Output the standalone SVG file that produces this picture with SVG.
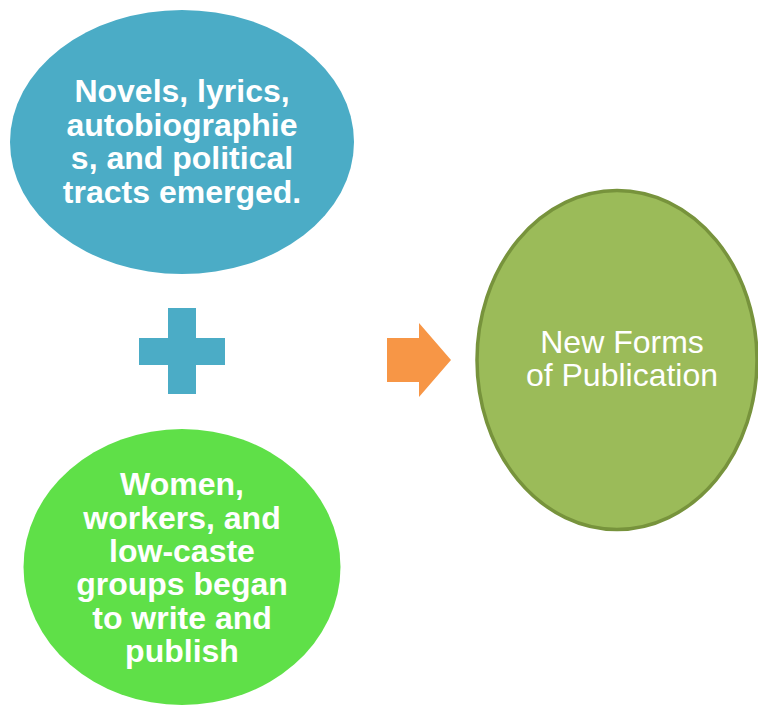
<svg xmlns="http://www.w3.org/2000/svg" width="758" height="707" viewBox="0 0 758 707">
<style>
.b{font-family:"Liberation Sans",Arial,sans-serif;font-weight:bold;font-size:32px;fill:#fff;text-anchor:middle}
.r{font-family:"Liberation Sans",Arial,sans-serif;font-size:32px;fill:#fff;text-anchor:middle}
</style>
<rect width="758" height="707" fill="#fff"/>
<g id="top-node">
<ellipse cx="182" cy="142" rx="172" ry="132" fill="#4BACC6"/>
<text class="b"><tspan x="182" y="102">Novels, lyrics,</tspan><tspan x="182" y="135.5">autobiographie</tspan><tspan x="182" y="169">s, and political</tspan><tspan x="182" y="202.5">tracts emerged.</tspan></text>
</g>
<g id="bottom-node">
<ellipse cx="182" cy="567" rx="158.5" ry="138" fill="#5FE048"/>
<text class="b"><tspan x="182" y="495">Women,</tspan><tspan x="182" y="528.5">workers, and</tspan><tspan x="182" y="562">low-caste</tspan><tspan x="182" y="595">groups began</tspan><tspan x="182" y="628.5">to write and</tspan><tspan x="182" y="661.5">publish</tspan></text>
</g>
<g id="result-node">
<ellipse cx="617" cy="360" rx="140" ry="169.5" fill="#9BBB59" stroke="#77933C" stroke-width="3.5"/>
<text class="r"><tspan x="622" y="353">New Forms</tspan><tspan x="622" y="386">of Publication</tspan></text>
</g>
<g id="connectors">
<path d="M168 308H196V338H225V365H196V394H168V365H139V338H168Z" fill="#4BACC6"/>
<path d="M387 338H419V323L451 360L419 397V382H387Z" fill="#F79646"/>
</g>
</svg>
